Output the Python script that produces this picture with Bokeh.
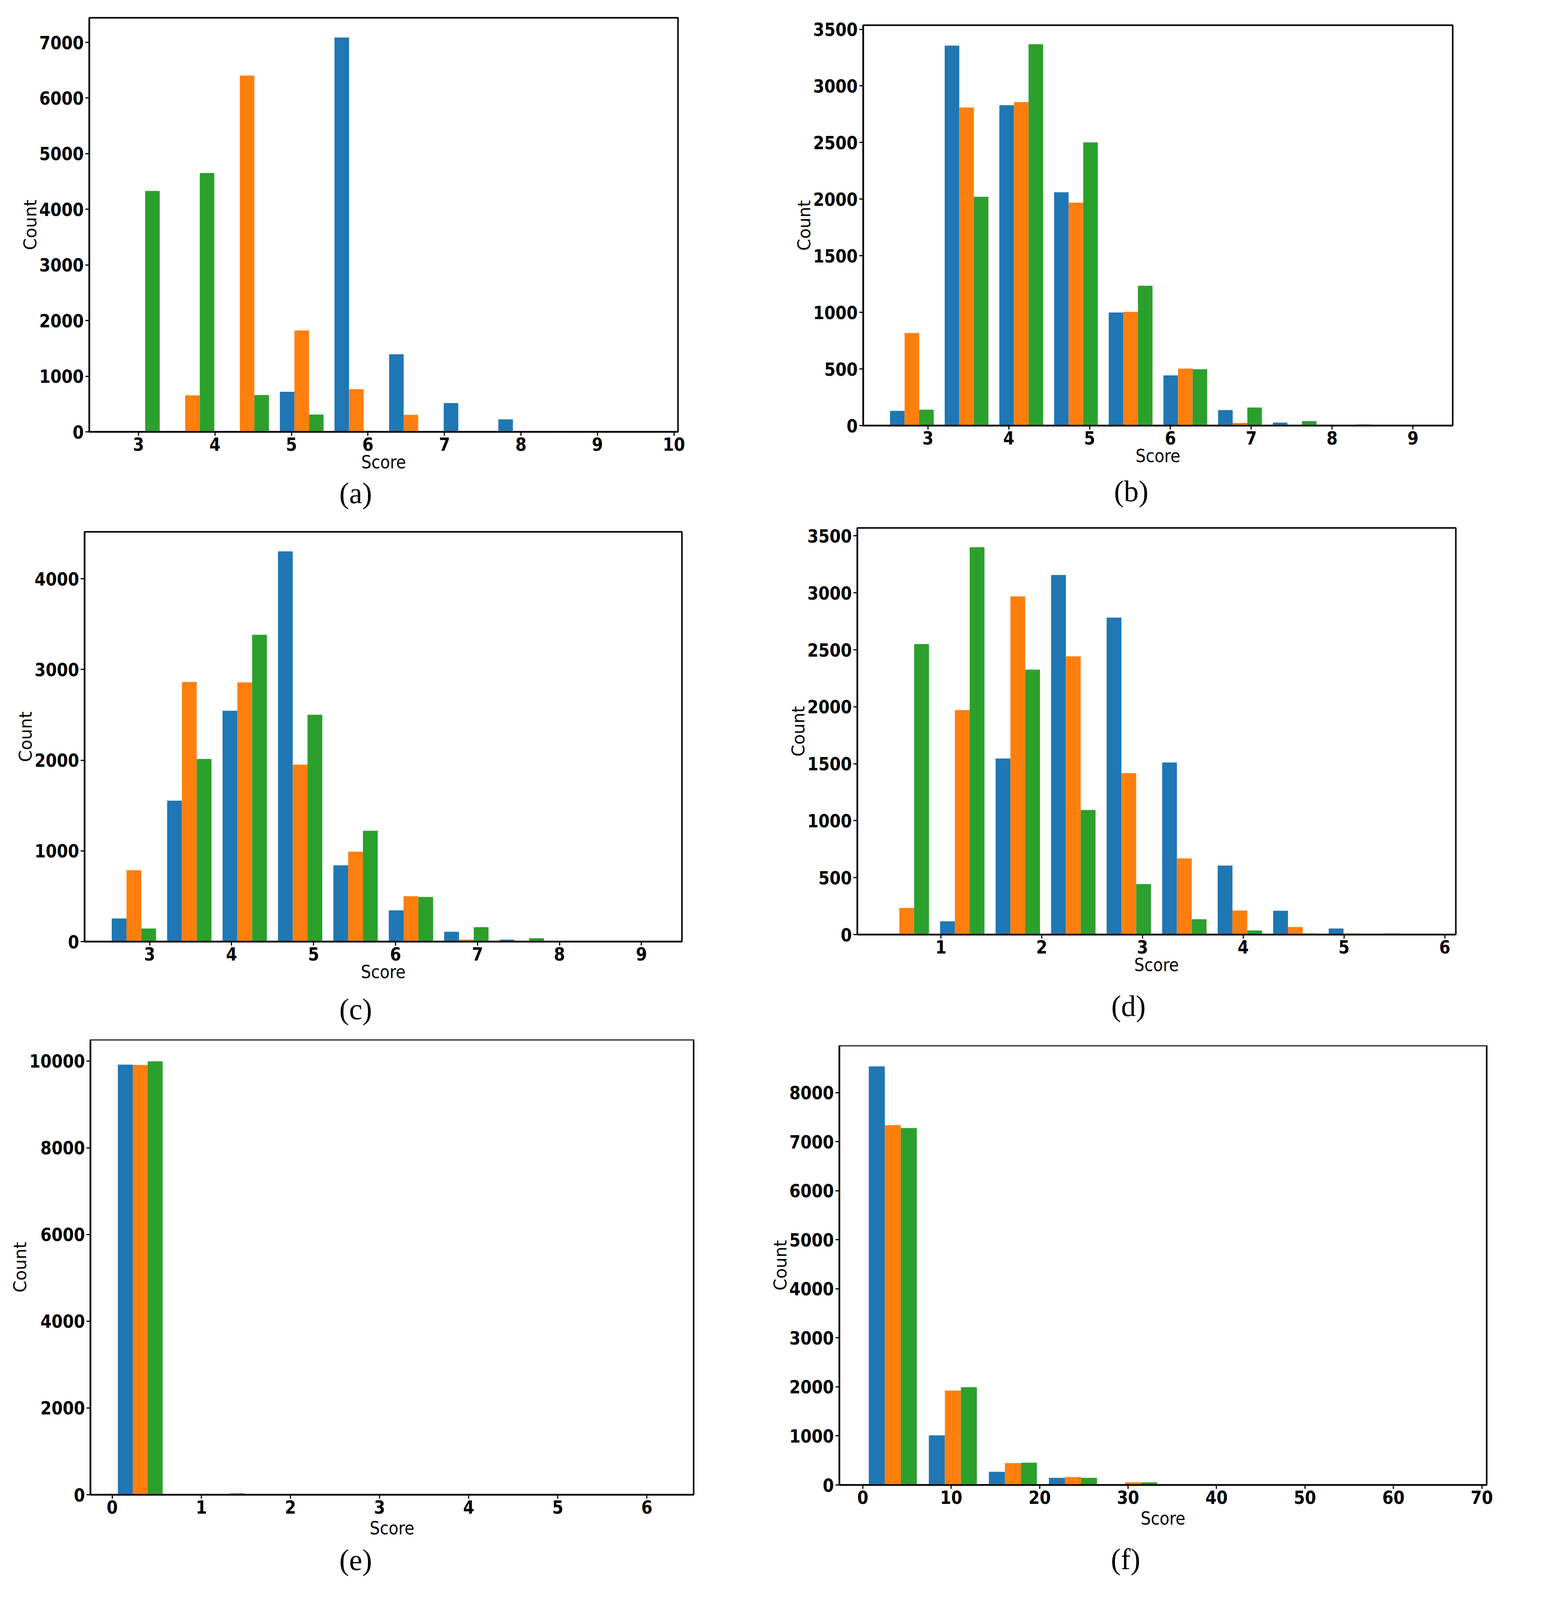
import numpy as np
from bokeh.plotting import figure
from bokeh.layouts import column, row
from bokeh.models import FixedTicker, Range1d, Title, Spacer
from bokeh.embed import file_html
from bokeh.resources import INLINE

# ---------------- data ----------------
SERIES_COLORS = ["#1f77b4", "#ff7f0e", "#2ca02c"]

A_EDGES = [2.635, 3.349, 4.063, 4.777, 5.491, 6.205, 6.919, 7.633, 8.347, 9.061, 9.775]
A_BLUE = [0, 0, 0, 720, 7088, 1394, 517, 224, 14, 0]
A_ORANGE = [0, 656, 6403, 1822, 767, 306, 7, 0, 0, 0]
A_GREEN = [4330, 4651, 662, 310, 20, 0, 0, 0, 0, 0]
A_XTICKS = [3, 4, 5, 6, 7, 8, 9, 10]
A_YTICKS = [0, 1000, 2000, 3000, 4000, 5000, 6000, 7000]

B_EDGES = [2.463, 3.140, 3.816, 4.493, 5.169, 5.846, 6.522, 7.199, 7.875, 8.552, 9.228]
B_BLUE = [130, 3356, 2830, 2061, 999, 443, 137, 27, 0, 0]
B_ORANGE = [818, 2809, 2858, 1969, 1005, 504, 23, 0, 0, 0]
B_GREEN = [141, 2021, 3368, 2501, 1235, 498, 160, 40, 10, 0]
B_XTICKS = [3, 4, 5, 6, 7, 8, 9]
B_YTICKS = [0, 500, 1000, 1500, 2000, 2500, 3000, 3500]

C_EDGES = [2.470, 3.146, 3.822, 4.498, 5.174, 5.850, 6.526, 7.202, 7.878, 8.554, 9.230]
C_BLUE = [255, 1553, 2545, 4302, 841, 345, 109, 21, 0, 0]
C_ORANGE = [787, 2861, 2857, 1951, 992, 500, 21, 0, 0, 0]
C_GREEN = [144, 2013, 3382, 2501, 1222, 492, 159, 38, 8, 0]
C_XTICKS = [3, 4, 5, 6, 7, 8, 9]
C_YTICKS = [0, 1000, 2000, 3000, 4000]

D_EDGES = [0.385, 0.936, 1.487, 2.038, 2.589, 3.140, 3.691, 4.242, 4.793, 5.344, 5.895]
D_BLUE = [0, 117, 1546, 3157, 2783, 1511, 606, 209, 53, 10]
D_ORANGE = [234, 1971, 2969, 2443, 1417, 669, 212, 66, 10, 0]
D_GREEN = [2551, 3400, 2326, 1094, 443, 135, 36, 10, 0, 0]
D_XTICKS = [1, 2, 3, 4, 5, 6]
D_YTICKS = [0, 500, 1000, 1500, 2000, 2500, 3000, 3500]

E_EDGES = [0.0, 0.628, 1.256, 1.884, 2.512, 3.140, 3.768, 4.396, 5.024, 5.652, 6.280]
E_BLUE = [9916, 0, 31, 8, 0, 0, 0, 0, 0, 0]
E_ORANGE = [9908, 0, 16, 8, 0, 0, 0, 0, 0, 0]
E_GREEN = [9992, 0, 0, 0, 0, 0, 0, 0, 0, 0]
E_XTICKS = [0, 1, 2, 3, 4, 5, 6]
E_YTICKS = [0, 2000, 4000, 6000, 8000, 10000]

F_EDGES = [0.0, 6.79, 13.58, 20.37, 27.16, 33.95, 40.74, 47.53, 54.32, 61.11, 67.90]
F_BLUE = [8535, 1011, 269, 146, 8, 0, 0, 0, 0, 0]
F_ORANGE = [7338, 1926, 447, 162, 54, 15, 8, 0, 0, 0]
F_GREEN = [7279, 1993, 454, 146, 54, 15, 0, 0, 0, 0]
F_XTICKS = [0, 10, 20, 30, 40, 50, 60, 70]
F_YTICKS = [0, 1000, 2000, 3000, 4000, 5000, 6000, 7000, 8000]

TAGS = ["(a)", "(b)", "(c)", "(d)", "(e)", "(f)"]

TICK_FONT = "'DejaVu Sans Condensed', 'DejaVu Sans'"
LABEL_FONT = "'DejaVu Sans Condensed', 'DejaVu Sans'"

# the page is photographed slightly enlarged; work in picture pixels and scale
S = 1.0 / 1.033


def px(v):
    return int(round(v * S))


def fpx(v):
    return f"{v * S:.1f}px"


def hist_panel(edges, series, xticks, yticks, tag, fw, fh, bl, br, bt, bb,
               t_off, t_stand, lab_stand):
    edges = np.asarray(edges, dtype=float)
    w = np.diff(edges)
    bw = 0.8 * w / 3.0
    lefts = edges[:-1] + 0.1 * w
    x0 = lefts[0]
    x1 = edges[-1] - 0.1 * w[-1]
    span = x1 - x0
    ymax = 1.05 * max(max(s) for s in series)

    p = figure(frame_width=px(fw), frame_height=px(fh), title=None,
               min_border_left=px(bl), min_border_right=px(br),
               min_border_top=px(bt), min_border_bottom=px(bb),
               x_range=Range1d(x0 - 0.05 * span, x1 + 0.05 * span),
               y_range=Range1d(0, ymax),
               output_backend="svg", toolbar_location=None)

    for k, (vals, col) in enumerate(zip(series, SERIES_COLORS)):
        p.vbar(x=lefts + (k + 0.5) * bw, width=bw, top=list(vals), bottom=0,
               fill_color=col, line_color=None)

    p.xaxis.ticker = FixedTicker(ticks=xticks, minor_ticks=[])
    p.yaxis.ticker = FixedTicker(ticks=yticks, minor_ticks=[])
    p.grid.visible = False

    p.axis.axis_line_color = "black"
    p.axis.axis_line_width = 4 * S
    p.axis.major_tick_line_color = "black"
    p.axis.major_tick_line_width = 3 * S
    p.axis.major_tick_out = px(10)
    p.axis.major_tick_in = 0
    p.axis.minor_tick_out = 0
    p.axis.minor_tick_in = 0
    p.axis.major_label_text_font = TICK_FONT
    p.axis.major_label_text_font_size = fpx(47)
    p.axis.major_label_text_font_style = "bold"
    p.axis.major_label_text_color = "black"
    p.axis.major_label_standoff = px(4)

    p.xaxis.axis_label = "Score"
    p.xaxis.axis_label_text_font = LABEL_FONT
    p.xaxis.axis_label_text_font_size = fpx(47)
    p.xaxis.axis_label_text_font_style = "normal"
    p.xaxis.axis_label_text_color = "black"
    p.xaxis.axis_label_standoff = px(lab_stand)

    p.yaxis.axis_label = "Count"
    p.yaxis.axis_label_text_font = "DejaVu Sans"
    p.yaxis.axis_label_text_font_size = fpx(45)
    p.yaxis.axis_label_text_font_style = "normal"
    p.yaxis.axis_label_text_color = "black"
    p.yaxis.axis_label_standoff = px(-5)

    p.outline_line_color = "black"
    p.outline_line_width = 4 * S
    p.outline_line_alpha = 1.0
    p.background_fill_color = "white"
    p.border_fill_color = "white"

    t = Title(text=tag, align="left", offset=px(t_off), standoff=px(t_stand),
              text_font="Liberation Serif", text_font_size=fpx(78),
              text_font_style="normal", text_color="black")
    p.add_layout(t, "below")
    return p


def padded(fig, top_pad):
    if top_pad <= 0:
        return fig
    return column(Spacer(width=10, height=px(top_pad)), fig)


# panel geometry (picture pixels): frame w/h, borders l/r/t/b, tag x-offset, tag standoff, label standoff
pa = hist_panel(A_EDGES, [A_BLUE, A_ORANGE, A_GREEN], A_XTICKS, A_YTICKS, TAGS[0],
                1557, 1095, 236, 199, 47, 232, 661, 12, 0)
pb = hist_panel(B_EDGES, [B_BLUE, B_ORANGE, B_GREEN], B_XTICKS, B_YTICKS, TAGS[1],
                1559, 1059, 290, 131, 47, 248, 663, 36, 0)
pc = hist_panel(C_EDGES, [C_BLUE, C_ORANGE, C_GREEN], C_XTICKS, C_YTICKS, TAGS[2],
                1579, 1084, 223, 190, 22, 259, 674, 46, 0)
pd_ = hist_panel(D_EDGES, [D_BLUE, D_ORANGE, D_GREEN], D_XTICKS, D_YTICKS, TAGS[3],
                 1583, 1075, 274, 123, 22, 278, 671, 66, 0)
pe = hist_panel(E_EDGES, [E_BLUE, E_ORANGE, E_GREEN], E_XTICKS, E_YTICKS, TAGS[4],
                1595, 1203, 239, 158, 0, 272, 658, 18, 8)
pf = hist_panel(F_EDGES, [F_BLUE, F_ORANGE, F_GREEN], F_XTICKS, F_YTICKS, TAGS[5],
                1712, 1162, 227, 41, 0, 298, 718, 64, 8)

layout = column(
    row(padded(pa, 0), padded(pb, 20)),
    row(padded(pc, 10), padded(pd_, 0)),
    row(padded(pe, 0), padded(pf, 15)),
)

with open("out.html", "w") as f:
    f.write(file_html(layout, INLINE))
